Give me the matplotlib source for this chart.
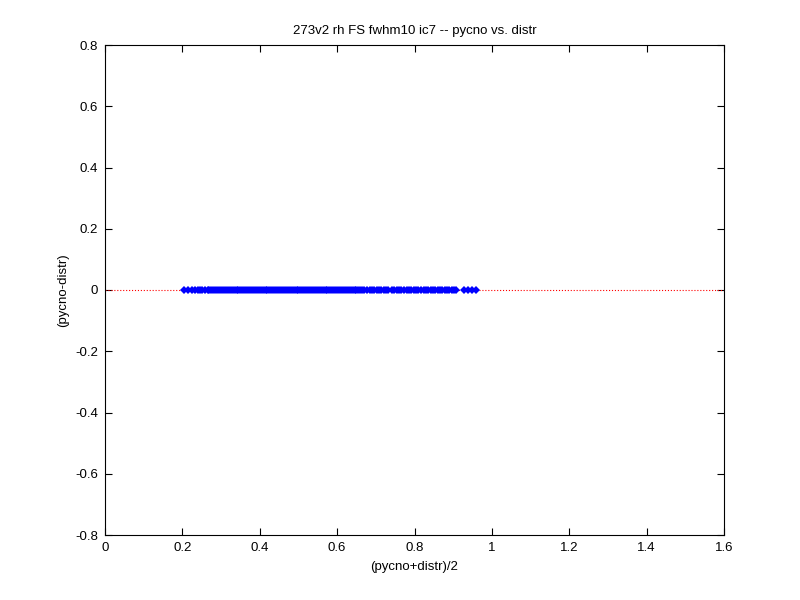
import matplotlib
matplotlib.use("Agg")
import matplotlib.pyplot as plt

plt.rcParams["font.family"] = ["Liberation Sans", "DejaVu Sans"]
plt.rcParams["font.size"] = 9.5

# mean of the two measures, (pycno+distr)/2
x_mean = [0.205, 0.215, 0.225, 0.232, 0.24, 0.246, 0.252, 0.258, 0.265, 0.27,
          0.275, 0.28, 0.285, 0.29, 0.295, 0.3, 0.305, 0.31, 0.315, 0.32,
          0.325, 0.33, 0.335, 0.34, 0.345, 0.35, 0.355, 0.36, 0.365, 0.37,
          0.375, 0.38, 0.385, 0.39, 0.395, 0.4, 0.405, 0.41, 0.415, 0.42,
          0.425, 0.43, 0.435, 0.44, 0.445, 0.45, 0.455, 0.46, 0.465, 0.47,
          0.475, 0.48, 0.485, 0.49, 0.495, 0.5, 0.505, 0.51, 0.515, 0.52,
          0.525, 0.53, 0.535, 0.54, 0.545, 0.55, 0.555, 0.56, 0.565, 0.57,
          0.575, 0.58, 0.585, 0.59, 0.595, 0.6, 0.605, 0.61, 0.615, 0.62,
          0.625, 0.63, 0.635, 0.64, 0.645, 0.65, 0.655, 0.66, 0.665, 0.67,
          0.676, 0.684, 0.69, 0.696, 0.702, 0.708, 0.714, 0.72, 0.726, 0.732,
          0.742, 0.748, 0.754, 0.76, 0.766, 0.774, 0.78, 0.786, 0.792, 0.798,
          0.804, 0.81, 0.818, 0.824, 0.83, 0.836, 0.842, 0.848, 0.854, 0.86,
          0.866, 0.872, 0.878, 0.884, 0.89, 0.896, 0.902, 0.906,
          0.928, 0.938, 0.948, 0.958]
# difference pycno-distr (all zero)
y_diff = [0.0] * len(x_mean)

fig = plt.figure(figsize=(8, 6), dpi=100)
ax = fig.add_axes([105 / 800, 65 / 600, 619 / 800, 490 / 600])

ax.plot([0, 1.6], [0, 0], ":", color="red", linewidth=0.8)
ax.plot(x_mean, y_diff, "D", color="blue", markersize=4, markeredgewidth=0)

ax.set_xlim(0, 1.6)
ax.set_ylim(-0.8, 0.8)
ax.set_xticks([0, 0.2, 0.4, 0.6, 0.8, 1, 1.2, 1.4, 1.6])
ax.set_xticklabels(["0", "0.2", "0.4", "0.6", "0.8", "1", "1.2", "1.4", "1.6"])
ax.set_yticks([-0.8, -0.6, -0.4, -0.2, 0, 0.2, 0.4, 0.6, 0.8])
ax.set_yticklabels(["-0.8", "-0.6", "-0.4", "-0.2", "0", "0.2", "0.4", "0.6", "0.8"])
ax.tick_params(direction="in", top=True, right=True, length=5, width=0.8, pad=5)
for s in ax.spines.values():
    s.set_linewidth(0.8)

ax.set_title("273v2 rh FS fwhm10 ic7 -- pycno vs. distr", fontsize=9.5, pad=8)
ax.set_xlabel("(pycno+distr)/2", fontsize=9.5, labelpad=5)
ax.set_ylabel("(pycno-distr)", fontsize=9.5, labelpad=4)

fig.savefig("out.png", dpi=100)
